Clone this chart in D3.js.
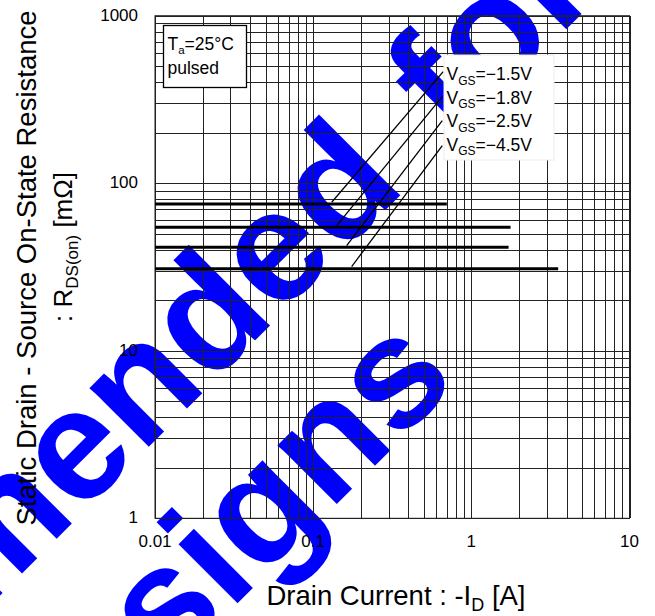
<!DOCTYPE html>
<html>
<head>
<meta charset="utf-8">
<script src="https://cdn.jsdelivr.net/npm/d3@7"></script>
<style>
  html, body { margin: 0; padding: 0; background: #fff; }
  svg { display: block; font-family: "Liberation Sans", Arial, sans-serif; }
</style>
</head>
<body>
<svg id="chart" width="655" height="616"></svg>
<script>
// ---- data ----
const xTickValues = [0.01, 0.1, 1, 10];
const xTickLabels = ["0.01", "0.1", "1", "10"];
const yTickValues = [1, 10, 100, 1000];
const yTickLabels = ["1", "10", "100", "1000"];

const vgsLabels = ["\u22121.5V", "\u22121.8V", "\u22122.5V", "\u22124.5V"];
const rdsOn     = [75.2, 54.6, 41.5, 30.9];      // mOhm (flat curves)
const idStart   = [0.01, 0.01, 0.01, 0.01];      // A
const idEnd     = [0.70, 1.77, 1.72, 3.54];      // A
// leader lines (data space): curve end -> label
const leaderFromX = [0.131, 0.1408, 0.1628, 0.1751];
const leaderFromY = [77.0, 55.8, 42.4, 31.8];
const leaderToX   = [0.664, 0.655, 0.655, 0.655];
const leaderToY   = [464, 329, 236.5, 167.7];

const wmLines = ["Not Recommended for", "New Designs"];
const wmColor = "#0000ff";

// ---- layout ----
const pL = 155, pR = 629.5, pT = 15.7, pB = 518.3;
const svg = d3.select("#chart");

const x = d3.scaleLog().domain([0.01, 10]).range([pL, pR]);
const y = d3.scaleLog().domain([1, 1000]).range([pB, pT]);

// ---- watermark (under everything) ----
const wm = svg.append("g").attr("transform", "rotate(-45)")
  .attr("fill", wmColor)
  .style("font-family", "'Liberation Sans', Arial, sans-serif")
  .style("font-weight", "bold")
  .style("font-size", "158px");
function placeLine(str, baseline, anchorIdx, anchorT, ws) {
  const t = wm.append("text").text(str).attr("x", 0).attr("y", baseline)
    .style("word-spacing", ws + "px");
  const n = t.node();
  const s = n.getStartPositionOfChar(anchorIdx).x;
  const e = n.getEndPositionOfChar(anchorIdx).x;
  t.attr("x", anchorT - (s + e) / 2);
}
placeLine(wmLines[0], 421, 12, -77, 20);
placeLine(wmLines[1], 594.5, 9, -81, 0);

// ---- grid ----
const grid = svg.append("g").attr("stroke", "#222").attr("stroke-width", 1)
  .attr("shape-rendering", "crispEdges");
grid.selectAll("line.v").data(x.ticks()).join("line").attr("class", "v")
  .attr("x1", d => Math.round(x(d)) + 0.5).attr("x2", d => Math.round(x(d)) + 0.5)
  .attr("y1", pT).attr("y2", pB);
grid.selectAll("line.h").data(y.ticks()).join("line").attr("class", "h")
  .attr("y1", d => Math.round(y(d)) + 0.5).attr("y2", d => Math.round(y(d)) + 0.5)
  .attr("x1", pL).attr("x2", pR);
svg.append("rect").attr("x", pL).attr("y", pT)
  .attr("width", pR - pL).attr("height", pB - pT)
  .attr("fill", "none").attr("stroke", "#222").attr("stroke-width", 1);

// ---- tick labels ----
svg.append("g").selectAll("text").data(xTickValues).join("text")
  .attr("x", d => x(d)).attr("y", 546.5)
  .attr("text-anchor", "middle").attr("font-size", 17).attr("fill", "#000")
  .text((d, i) => xTickLabels[i]);
svg.append("g").selectAll("text").data(yTickValues).join("text")
  .attr("x", 138).attr("y", d => y(d) + 5)
  .attr("text-anchor", "end").attr("font-size", 17).attr("fill", "#000")
  .text((d, i) => yTickLabels[i]);

// ---- data lines ----
const series = d3.range(rdsOn.length);
svg.append("g").selectAll("line").data(series).join("line")
  .attr("x1", i => x(idStart[i])).attr("x2", i => x(idEnd[i]))
  .attr("y1", i => y(rdsOn[i])).attr("y2", i => y(rdsOn[i]))
  .attr("stroke", "#000").attr("stroke-width", 3);
svg.append("g").selectAll("line").data(series).join("line")
  .attr("x1", i => x(leaderFromX[i])).attr("y1", i => y(leaderFromY[i]))
  .attr("x2", i => x(leaderToX[i])).attr("y2", i => y(leaderToY[i]))
  .attr("stroke", "#000").attr("stroke-width", 1.3);

// ---- legend box ----
svg.append("rect").attr("x", 444).attr("y", 55).attr("width", 110).attr("height", 105)
  .attr("fill", "#fff").attr("stroke", "#ececec").attr("stroke-width", 1);
const lg = svg.append("g").attr("font-size", 17.5).attr("fill", "#000");
series.forEach(i => {
  const t = lg.append("text").attr("x", 446.5).attr("y", 80 + i * 23.6);
  t.append("tspan").text("V");
  t.append("tspan").attr("font-size", 12).attr("dy", 4.5).text("GS");
  t.append("tspan").attr("dy", -4.5).text("=" + vgsLabels[i]);
});

// ---- condition box ----
svg.append("rect").attr("x", 163.5).attr("y", 25.5).attr("width", 83).attr("height", 62)
  .attr("fill", "#fff").attr("stroke", "#000").attr("stroke-width", 1.3);
const cb = svg.append("g").attr("font-size", 17.5).attr("fill", "#000");
const t1 = cb.append("text").attr("x", 167.5).attr("y", 50);
t1.append("tspan").text("T");
t1.append("tspan").attr("font-size", 11.5).attr("dy", 4).text("a");
t1.append("tspan").attr("dy", -4).text("=25\u00B0C");
cb.append("text").attr("x", 167.5).attr("y", 74).text("pulsed");

// ---- axis titles ----
const xt = svg.append("text").attr("x", 396).attr("y", 605)
  .attr("text-anchor", "middle").attr("font-size", 27.5).attr("fill", "#000");
xt.append("tspan").text("Drain Current : -I");
xt.append("tspan").attr("font-size", 18).attr("dy", 6).text("D");
xt.append("tspan").attr("dy", -6).text(" [A]");

svg.append("text")
  .attr("transform", "translate(36,268) rotate(-90)")
  .attr("text-anchor", "middle").attr("font-size", 27.5).attr("fill", "#000")
  .text("Static Drain - Source On-State Resistance");
const yt2 = svg.append("text")
  .attr("transform", "translate(72,247) rotate(-90)")
  .attr("text-anchor", "middle").attr("font-size", 26).attr("fill", "#000");
yt2.append("tspan").text(": R");
yt2.append("tspan").attr("font-size", 17).attr("dy", 6).text("DS(on)");
yt2.append("tspan").attr("dy", -6).text(" [m\u03A9]");
</script>
</body>
</html>
